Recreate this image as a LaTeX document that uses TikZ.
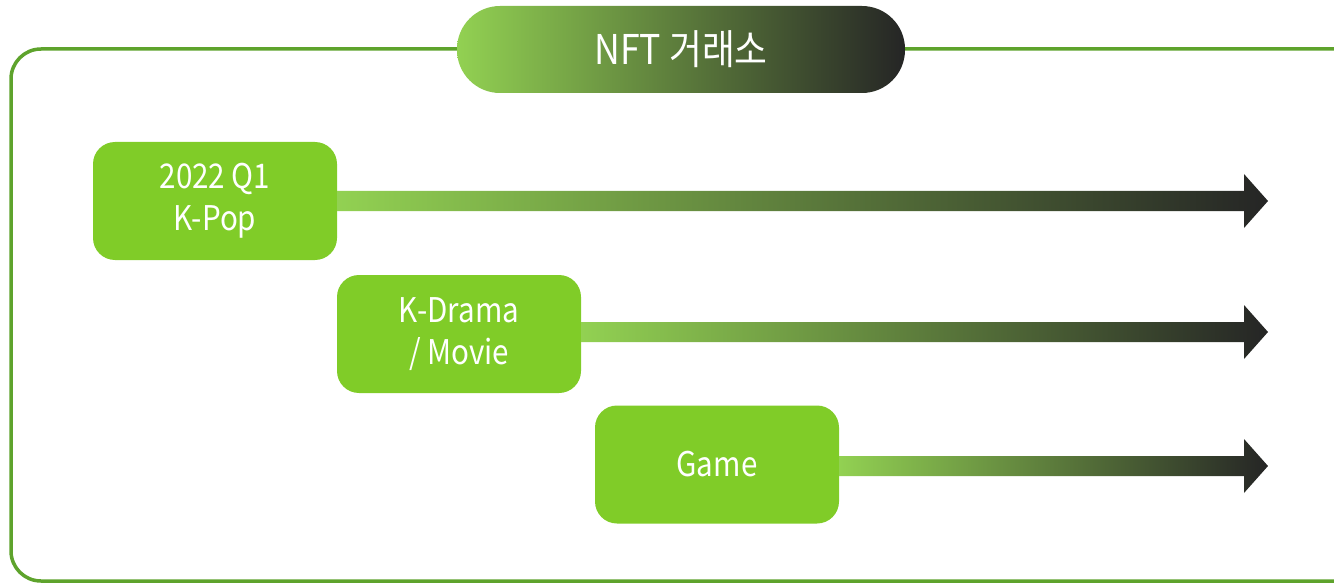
\documentclass[tikz,border=0pt]{standalone}
\usepackage{fontspec}
\setmainfont[FakeStretch=0.87]{Noto Sans CJK KR}
\usetikzlibrary{calc}
\definecolor{boxgreen}{HTML}{80CC28}
\definecolor{framegreen}{HTML}{5EA32C}
\definecolor{lightg}{HTML}{92D152}
\definecolor{darkg}{HTML}{252525}
\begin{document}
\begin{tikzpicture}[x=1pt,y=-1pt,
  stagebox/.style={fill=boxgreen, rounded corners=22pt, minimum width=244pt,
    minimum height=118pt, text=white, align=center,
    font=\fontsize{34}{42}\selectfont, inner sep=0pt},
  titlebox/.style={shade, left color=lightg, right color=darkg, rounded corners=43pt,
    minimum width=448pt, minimum height=87pt, text=white,
    font=\fontsize{41}{48}\selectfont, inner sep=0pt},
  arrowshade/.style={left color=lightg, right color=darkg},
  frame/.style={draw=framegreen, line width=3.5pt, rounded corners=30pt}]
\useasboundingbox (0,0) rectangle (1334,583);
\clip (0,0) rectangle (1334,583);
\draw[frame] (11,49) rectangle (1370,581);
\node[titlebox] (t) at (681,49.5) {NFT 거래소};
\node[stagebox] (b1) at (215,201) {2022 Q1\\K-Pop};
\node[stagebox] (b2) at (459,334) {K-Drama\\/ Movie};
\node[stagebox] (b3) at (717,464.5) {Game};
\coordinate (tip1) at (1268,201);
\coordinate (tip2) at (1268,332);
\coordinate (tip3) at (1268,466);
\foreach \b/\t in {b1/tip1,b2/tip2,b3/tip3}{
  \shade[arrowshade] ($(\b.east |- \t)+(0,-10)$) -- ($(\t)+(-24,-10)$) -- ($(\t)+(-24,-27)$)
    -- (\t) -- ($(\t)+(-24,27)$) -- ($(\t)+(-24,10)$) -- ($(\b.east |- \t)+(0,10)$) -- cycle;
}
\end{tikzpicture}
\end{document}
